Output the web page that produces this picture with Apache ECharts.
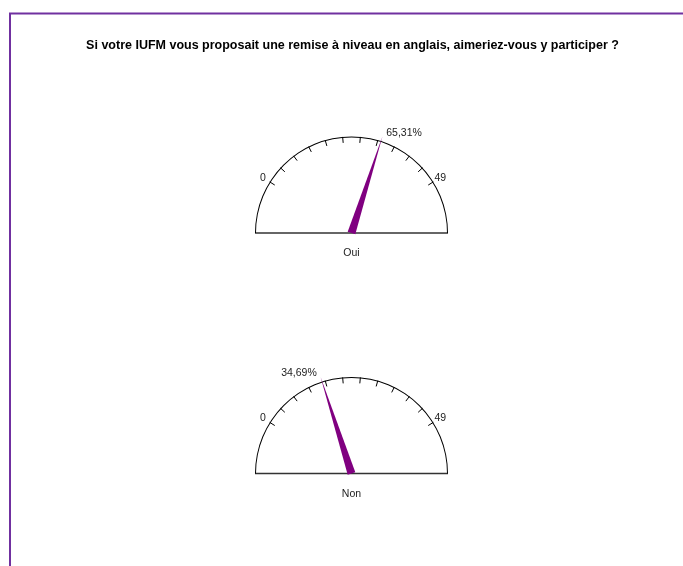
<!DOCTYPE html>
<html>
<head>
<meta charset="utf-8">
<script src="https://cdn.jsdelivr.net/npm/echarts@6/dist/echarts.min.js"></script>
<style>
html,body{margin:0;padding:0;background:#fff;}
#chart{width:683px;height:566px;}
</style>
</head>
<body>
<div id="chart"></div>
<script>
// ---- data ----
const chartTitle = 'Si votre IUFM vous proposait une remise à niveau en anglais, aimeriez-vous y participer ?';
const categories = ['Oui', 'Non'];
const counts = [32, 17];
const scaleMin = 0;
const scaleMax = 49;

// ---- layout ----
const FONT = '"Liberation Sans", Arial, sans-serif';
const R = 96.5;
const CX = 351.5;
const CY = [233, 473.5];
const START = 148, END = 32;
const PURPLE = '#800080';

const fmtPct = v => (v / scaleMax * 100).toFixed(2).replace('.', ',') + '%';

const series = [];
const graphics = [
  { type: 'rect', shape: { x: 10, y: 13.5, width: 800, height: 700 },
    style: { fill: 'none', stroke: '#7030a0', lineWidth: 2 }, silent: true },
  { type: 'text', x: 352.5, y: 45.5,
    style: { text: chartTitle, font: 'bold 12.5px ' + FONT, fill: '#000',
      textAlign: 'center', textVerticalAlign: 'middle' } }
];

categories.forEach((name, i) => {
  const v = counts[i];
  const cy = CY[i];
  const th = (START + (v - scaleMin) / (scaleMax - scaleMin) * (END - START)) * Math.PI / 180;
  const cx = Math.cos(th), sy = Math.sin(th);
  const off = [((cx * 1.03 + Math.sign(cx) * 0.23) * 100) + '%', (-sy * 1.09 * 100) + '%'];

  // outer semicircle arc
  series.push({
    type: 'gauge', center: [CX, cy], radius: R,
    startAngle: 180, endAngle: 0, min: 0, max: 1,
    axisLine: { show: true, roundCap: false, lineStyle: { width: 1, color: [[1, '#000']] } },
    axisTick: { show: false }, splitLine: { show: false }, axisLabel: { show: false },
    pointer: { show: false }, anchor: { show: false }, title: { show: false }, detail: { show: false },
    data: [{ value: 0 }], silent: true
  });

  // scale + pointer
  series.push({
    type: 'gauge', center: [CX, cy], radius: R,
    startAngle: START, endAngle: END, min: scaleMin, max: scaleMax, splitNumber: 11,
    axisLine: { show: false, lineStyle: { width: 0 } },
    axisTick: { show: false },
    splitLine: { show: true, length: 6, distance: 0, lineStyle: { color: '#000', width: 1 } },
    axisLabel: {
      show: true, distance: -21, padding: [0, 0, 0, 3], lineHeight: 8,
      color: '#222', fontSize: 10.5, fontFamily: FONT,
      formatter: val => (Math.abs(val - scaleMin) < 1e-6 ? '\n' + scaleMin
        : (Math.abs(val - scaleMax) < 1e-6 ? '\n' + scaleMax : ''))
    },
    pointer: { show: true, icon: 'path://M5,0 L10,100 L0,100 Z', width: 8, length: '105%',
      offsetCenter: [0, 0], itemStyle: { color: PURPLE } },
    anchor: { show: false },
    title: { show: true, offsetCenter: [0, '21%'], color: '#222', fontSize: 10.5, fontFamily: FONT },
    detail: { show: true, offsetCenter: off, color: '#222', fontSize: 10.5, fontFamily: FONT,
      fontWeight: 'normal', formatter: fmtPct, valueAnimation: false },
    data: [{ value: v, name: name }]
  });

  graphics.push({ type: 'line', shape: { x1: CX - R, y1: cy, x2: CX + R, y2: cy },
    style: { stroke: '#333', lineWidth: 1.5 }, silent: true });
});

const chart = echarts.init(document.getElementById('chart'), null, { renderer: 'canvas' });
chart.setOption({
  animation: false,
  backgroundColor: '#fff',
  series: series,
  graphic: graphics
});
</script>
</body>
</html>
